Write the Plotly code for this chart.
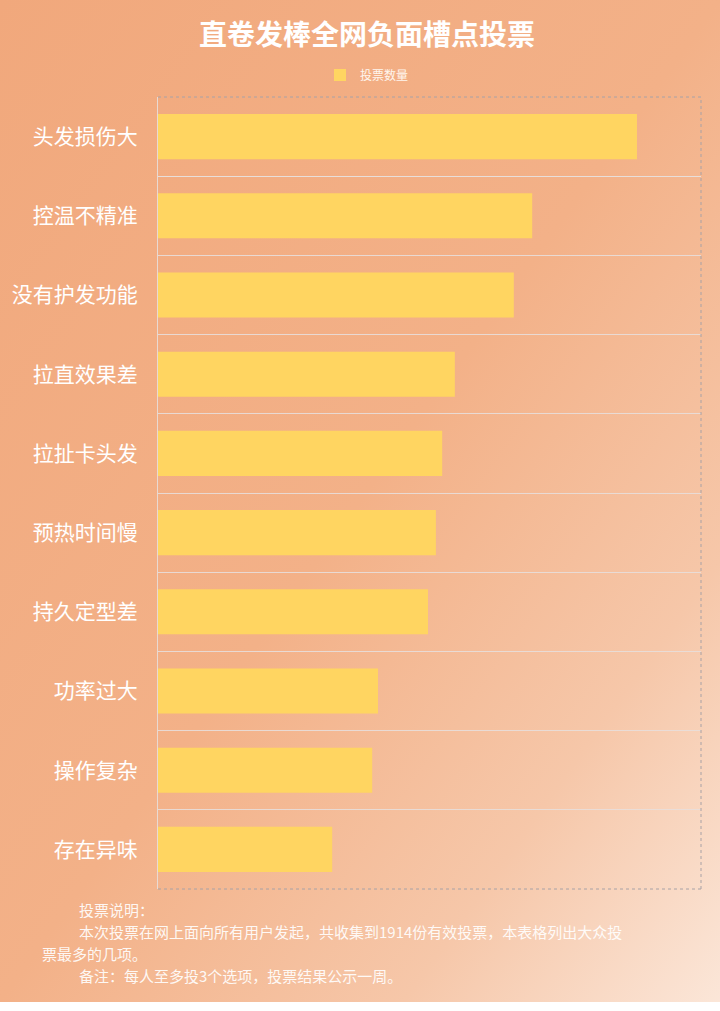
import base64
import plotly.graph_objects as go

# 数据
categories = ["头发损伤大", "控温不精准", "没有护发功能", "拉直效果差", "拉扯卡头发",
              "预热时间慢", "持久定型差", "功率过大", "操作复杂", "存在异味"]
votes = [910, 711, 676, 564, 540, 528, 513, 418, 407, 331]
series_name = "投票数量"
title_text = "直卷发棒全网负面槽点投票"
note_lines = [
    "投票说明：",
    "本次投票在网上面向所有用户发起，共收集到1914份有效投票，本表格列出大众投",
    "票最多的几项。",
    "备注：每人至多投3个选项，投票结果公示一周。",
]

W, H = 720, 1011
L, R, T, B = 158, 19, 97, 122
PW, PH = W - L - R, H - T - B
FONT = "Noto Sans CJK SC"


def px_x(x):
    return (x - L) / PW


def px_y(y):
    return (H - B - y) / PH


# 背景渐变（橙色 → 浅肉色）
svg = (
    "<svg xmlns='http://www.w3.org/2000/svg' width='720' height='1002' preserveAspectRatio='none'>"
    "<defs><linearGradient id='g' x1='0' y1='0' x2='1' y2='1'>"
    "<stop offset='0' stop-color='#F1A87C'/>"
    "<stop offset='0.5' stop-color='#F3B188'/>"
    "<stop offset='0.78' stop-color='#F6C7A9'/>"
    "<stop offset='1' stop-color='#FBE6D8'/>"
    "</linearGradient></defs>"
    "<rect width='720' height='1002' fill='url(#g)'/></svg>"
)
bg_src = "data:image/svg+xml;base64," + base64.b64encode(svg.encode("utf-8")).decode()

fig = go.Figure()

fig.add_trace(go.Bar(
    x=votes,
    y=categories,
    orientation="h",
    name=series_name,
    marker=dict(color="#FFD561", line=dict(width=0)),
    showlegend=True,
    hovertemplate="%{y}: %{x}<extra></extra>",
))

fig.update_layout(
    width=W,
    height=H,
    margin=dict(l=L, r=R, t=T, b=B),
    paper_bgcolor="white",
    plot_bgcolor="rgba(0,0,0,0)",
    bargap=0.43,
    font=dict(family=FONT, color="white"),
    title=dict(
        text=title_text,
        x=367 / W,
        xanchor="center",
        y=1 - 35 / H,
        yanchor="middle",
        font=dict(size=28, color="white", family=FONT, weight="bold"),
    ),
    legend=dict(
        orientation="h",
        x=px_x(367),
        xanchor="center",
        y=px_y(75),
        yanchor="middle",
        font=dict(size=12, color="#FFF6EE"),
        bgcolor="rgba(0,0,0,0)",
    ),
    images=[dict(
        source=bg_src,
        xref="paper", yref="paper",
        x=-L / PW, y=1 + T / PH,
        sizex=W / PW, sizey=1002 / PH,
        xanchor="left", yanchor="top",
        sizing="stretch",
        layer="below",
    )],
)

fig.update_xaxes(
    range=[0, PW * 1.9],
    showticklabels=False,
    showgrid=False,
    zeroline=False,
    fixedrange=True,
)

fig.update_yaxes(
    type="category",
    autorange="reversed",
    tickson="boundaries",
    showgrid=True,
    gridcolor="rgba(232,222,218,0.9)",
    gridwidth=1,
    showline=True,
    linecolor="rgba(232,222,218,0.9)",
    linewidth=1,
    ticks="",
    ticklabelstandoff=15,
    tickfont=dict(size=21, color="white", family=FONT),
    fixedrange=True,
)

# 点线边框（上、右、下）
border = dict(color="#A8A2A6", width=1, dash="dot")
fig.add_shape(type="line", xref="paper", yref="paper", x0=0, x1=1, y0=1, y1=1, line=border)
fig.add_shape(type="line", xref="paper", yref="paper", x0=1, x1=1, y0=0, y1=1, line=border)
fig.add_shape(type="line", xref="paper", yref="paper", x0=0, x1=1, y0=0, y1=0, line=border)

# 底部说明文字
note_pos = [(77, 909), (77, 931), (40, 953), (77, 975)]
for text, (nx, ny) in zip(note_lines, note_pos):
    fig.add_annotation(
        x=px_x(nx), y=px_y(ny),
        xref="paper", yref="paper",
        xanchor="left", yanchor="middle",
        text=text,
        showarrow=False,
        font=dict(size=15, color="rgba(255,255,255,0.92)", family=FONT),
    )

fig.write_html(
    "out.html",
    config={"displayModeBar": False},
    post_script="document.body.style.margin='0';",
)
